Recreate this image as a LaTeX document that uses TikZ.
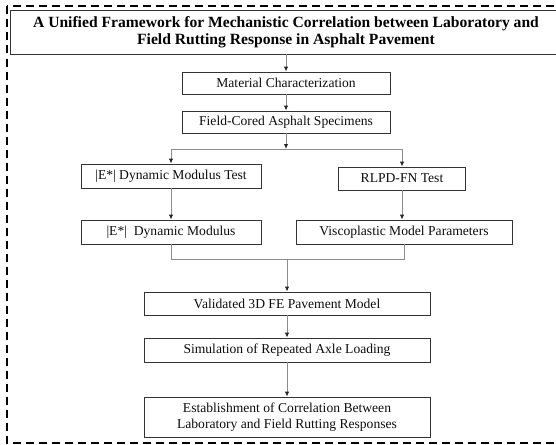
\documentclass[tikz,border=0pt]{standalone}
\usepackage{fontspec}
\setmainfont{Liberation Serif}
\usetikzlibrary{arrows.meta}

\tikzset{
  stepbox/.style={draw=black!80, line width=0.9pt, inner sep=2pt, align=center,
    font=\fontsize{13.6}{15.5}\selectfont, text=black!95},
  link/.style={draw=black!45, line width=0.9pt},
  arr/.style={link, -{Latex[length=5pt,width=4.5pt,color=black!85]}}
}

\begin{document}
\begin{tikzpicture}[line cap=butt,line join=miter,x=1pt,y=-1pt]

    \useasboundingbox (0,0) rectangle (556,444);
    \clip (0,0) rectangle (556,444);

    % Outer frame
    \draw[line width=2pt, dash pattern=on 8pt off 5pt] (7,6.5) rectangle (566,442.5);

    % Title
    \node[stepbox, minimum width=552pt, minimum height=44pt,
      font=\fontsize{15.6}{17}\selectfont\bfseries, text=black] (title) at (286,32)
      {A Unified Framework for Mechanistic Correlation between Laboratory and\\
       Field Rutting Response in Asphalt Pavement};

    % Boxes
    \node[stepbox, minimum width=208pt, minimum height=22pt] (mat) at (286,83) {Material\ Characterization};
    \node[stepbox, minimum width=208pt, minimum height=22pt] (field) at (286,122) {Field-Cored Asphalt Specimens};
    \node[stepbox, minimum width=180pt, minimum height=24pt] (dmt) at (171,176) {\textbar E*\textbar\ Dynamic Modulus Test};
    \node[stepbox, minimum width=127pt, minimum height=23pt] (rlpd) at (402,178.5) {RLPD-FN Test};
    \node[stepbox, minimum width=180pt, minimum height=24pt] (dm) at (171,232) {\textbar E*\textbar\ \ Dynamic Modulus};
    \node[stepbox, minimum width=216pt, minimum height=24pt] (visco) at (404,232) {Viscoplastic Model Parameters};
    \node[stepbox, minimum width=286pt, minimum height=23pt] (valid) at (287,303.5) {Validated 3D FE Pavement Model};
    \node[stepbox, minimum width=286pt, minimum height=24pt] (sim) at (287,350) {Simulation of Repeated Axle Loading};
    \node[stepbox, minimum width=286pt, minimum height=40pt] (est) at (287,417)
      {Establishment of Correlation Between\\ Laboratory and Field Rutting Responses};

    \coordinate (fork) at (286,149);
    \coordinate (join) at (287,259);

    % Top chain
    \draw[arr] (title) -- (mat);
    \draw[arr] (mat) -- (field);
    \draw[arr] (field) -- (fork);
    % Two tests
    \draw[arr] (fork) -| (dmt);
    \draw[arr] (fork) -| (rlpd);
    \draw[arr] (dmt) -- (dm);
    \draw[arr] (rlpd) -- (rlpd |- visco.north);
    % Merge into FE model
    \draw[link] (dm) |- (join);
    \draw[link] (visco) |- (join);
    \draw[arr] (join) -- (valid);
    \draw[arr] (valid) -- (sim);
    \draw[arr] (sim) -- (est);
\end{tikzpicture}
\end{document}
